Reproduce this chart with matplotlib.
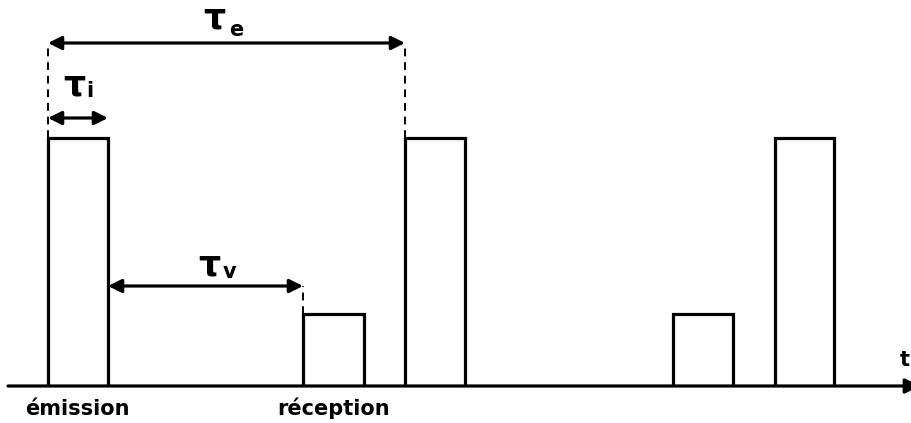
import matplotlib
matplotlib.use("Agg")
import matplotlib.pyplot as plt

# Pulse train: start times, widths and amplitudes (arbitrary units)
pulse_start = [48, 303, 405, 673, 775]
pulse_width = [60, 61, 60, 60, 59]
pulse_height = [248, 72, 248, 72, 248]
pulse_kind = ["émission", "réception", "", "", ""]

# Time intervals annotated above the train: (start, end, level, subscript)
intervals = [
    (48, 405, 343, "e"),   # repetition period
    (48, 108, 268, "i"),   # pulse duration
    (108, 303, 100, "v"),  # time of flight
]

BASE = 0
LW = 2.3

fig = plt.figure(figsize=(9.12, 4.23), dpi=100)
ax = fig.add_axes([0, 0, 1, 1])
ax.set_xlim(0, 912)
ax.set_ylim(-37, 386)
ax.axis("off")

# time axis with arrow
ax.annotate("", xy=(920, BASE), xytext=(8, BASE), annotation_clip=False,
            arrowprops=dict(arrowstyle="-|>", lw=LW, color="black",
                            mutation_scale=22, shrinkA=0, shrinkB=0))
ax.text(905, 20, "t", fontsize=15, fontweight="bold", ha="center",
        va="baseline", family="DejaVu Sans")

# rectangular pulses
for x0, w, h in zip(pulse_start, pulse_width, pulse_height):
    ax.plot([x0, x0, x0 + w, x0 + w], [BASE, h, h, BASE], color="black",
            lw=LW, solid_joinstyle="miter", solid_capstyle="butt")

# labels under the emitted and received pulses
label_x = {"émission": 77, "réception": 334}
for x0, kind in zip(pulse_start, pulse_kind):
    if kind:
        ax.text(label_x[kind], -29, kind, fontsize=15, fontweight="bold",
                ha="center", va="baseline", family="DejaVu Sans")

# dashed guides from pulse edges up to the interval arrows
dash = dict(color="black", lw=1.4, ls=(0, (4, 3)))
ax.plot([48, 48], [pulse_height[0], 343], **dash)
ax.plot([405, 405], [pulse_height[2], 343], **dash)
ax.plot([303, 303], [pulse_height[1], 100], **dash)

# double-headed interval arrows with tau labels
label_pos = {"e": (203, 358, 229, 350),
             "i": (63, 291, 86, 289),
             "v": (198, 111, 223, 108)}
for x0, x1, y, sub in intervals:
    ax.annotate("", xy=(x1, y), xytext=(x0, y),
                arrowprops=dict(arrowstyle="<|-|>", lw=LW, color="black",
                                mutation_scale=20, shrinkA=0, shrinkB=0))
    tx, ty, sx, sy = label_pos[sub]
    ax.text(tx, ty, "τ", fontsize=25, fontweight="bold", ha="left",
            va="baseline", family="DejaVu Sans")
    ax.text(sx, sy, sub, fontsize=15, fontweight="bold", ha="left",
            va="baseline", family="DejaVu Sans")

fig.savefig("out.png", dpi=100, facecolor="white")
